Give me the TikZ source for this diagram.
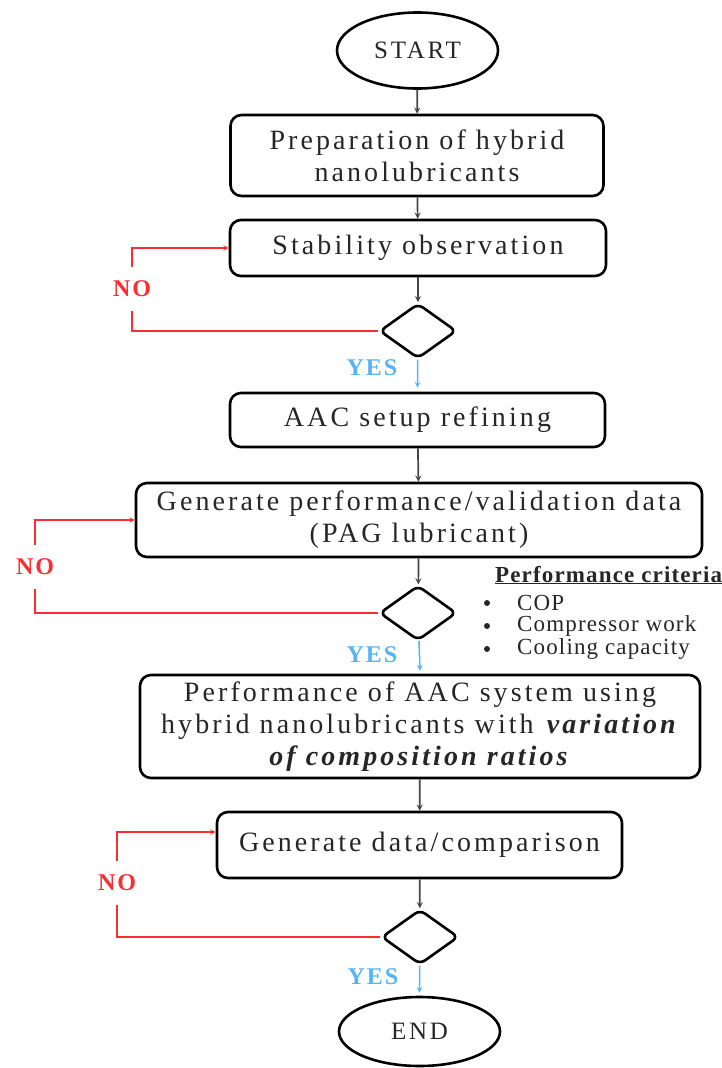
\documentclass[tikz,border=0pt]{standalone}
\usepackage{fontspec}
\setmainfont{Liberation Serif}
\newfontfamily\boxfont[LetterSpace=11]{Liberation Serif}
\newfontfamily\critfont[LetterSpace=5]{Liberation Serif}
\newfontfamily\tagfont[LetterSpace=8]{Liberation Serif}
\usetikzlibrary{shapes.geometric}

\definecolor{nored}{RGB}{250,45,50}
\definecolor{yesblue}{RGB}{85,180,245}
\definecolor{flowgray}{RGB}{70,70,70}

\tikzset{
  box/.style={draw, line width=2.6pt, rounded corners=11pt, align=center,
    text=black!85, font=\boxfont\fontsize{28}{32}\selectfont},
  terminal/.style={ellipse, draw, line width=2.6pt, minimum width=161pt,
    text=black!85, font=\boxfont\fontsize{25}{28}\selectfont},
  decision/.style={diamond, draw, line width=2.6pt, rounded corners=6pt,
    minimum width=77pt, minimum height=55pt, inner sep=0pt},
  flow/.style={->, draw=flowgray, line width=1.7pt},
  yesflow/.style={->, draw=yesblue, line width=1.5pt},
  noflow/.style={draw=nored, line width=1.4pt},
  notag/.style={text=nored, font=\tagfont\bfseries\fontsize{24}{26}\selectfont, inner sep=14pt},
  yestag/.style={text=yesblue, font=\tagfont\bfseries\fontsize{24}{26}\selectfont},
  crit/.style={anchor=west, inner sep=0pt, text=black!85, font=\critfont\fontsize{23}{24}\selectfont},
  bullet/.style={circle, fill=black!85, inner sep=0pt, minimum size=6pt}
}

\begin{document}
\begin{tikzpicture}[x=1pt, y=-1pt, >=stealth]
  \useasboundingbox (0,0) rectangle (721,1068);

  % main column
  \node[terminal, minimum height=76pt] (start) at (417.5,50.5) {START};
  \node[box, minimum width=373pt, minimum height=81pt] (prep) at (417,155.5)
    {Preparation of hybrid\\ nanolubricants};
  \node[box, minimum width=376pt, minimum height=56pt] (stab) at (418,248)
    {Stability observation};
  \node[decision] (chk1) at (418,331) {};
  \node[box, minimum width=375pt, minimum height=54pt] (setup) at (417.5,420)
    {AAC setup refining};
  \node[box, minimum width=566pt, minimum height=74pt] (valid) at (419,520)
    {Generate performance/validation data\\ (PAG lubricant)};
  \node[decision] (chk2) at (418,613) {};
  \node[box, minimum width=560pt, minimum height=103pt] (perf) at (420,726.5)
    {Performance of AAC system using\\ hybrid nanolubricants with \textbf{\textit{variation}}\\
     \textbf{\textit{of composition ratios}}};
  \node[box, minimum width=405pt, minimum height=66pt] (comp) at (419.5,845)
    {Generate data/comparison};
  \node[decision] (chk3) at (420,937) {};
  \node[terminal, minimum height=69pt] (finish) at (419.5,1031.5) {END};

  % forward arrows
  \draw[flow] (start) -- (prep);
  \draw[flow] (prep) -- (stab);
  \draw[flow] (stab) -- (chk1);
  \draw[flow] (setup) -- (valid);
  \draw[flow] (valid) -- (chk2);
  \draw[flow] (perf) -- (comp);
  \draw[flow] (comp) -- (chk3);

  % YES branches
  \draw[yesflow] (chk1) -- ([yshift=4pt]setup.north);
  \draw[yesflow] (chk2) -- ([yshift=3pt]perf.north);
  \draw[yesflow] (chk3) -- ([yshift=3pt]finish.north);
  \node[yestag] (yes1) at (372,368) {YES};
  \node[yestag] (yes2) at (372,655) {YES};
  \node[yestag] (yes3) at (373,977) {YES};

  % NO loops
  \node[notag] (no1) at (132,289) {NO};
  \draw[noflow] (chk1.west) -| (no1.south);
  \draw[noflow, ->] (no1.north) |- (stab.west);
  \node[notag] (no2) at (35,567) {NO};
  \draw[noflow] (chk2.west) -| (no2.south);
  \draw[noflow, ->] (no2.north) |- (valid.west);
  \node[notag] (no3) at (117,883) {NO};
  \draw[noflow] (chk3.west) -| (no3.south);
  \draw[noflow, ->] (no3.north) |- ([yshift=13pt]comp.west);

  % criteria list
  \node[crit, anchor=base west] (crithead) at (495,582)
    {\bfseries\underline{Performance criteria}};
  \foreach \label [count=\i] in {COP, Compressor work, Cooling capacity} {
    \node[bullet] (dot\i) at (487,580+23*\i) {};
    \node[crit] (crit\i) at (517,580+23*\i) {\label};
  }
\end{tikzpicture}
\end{document}
